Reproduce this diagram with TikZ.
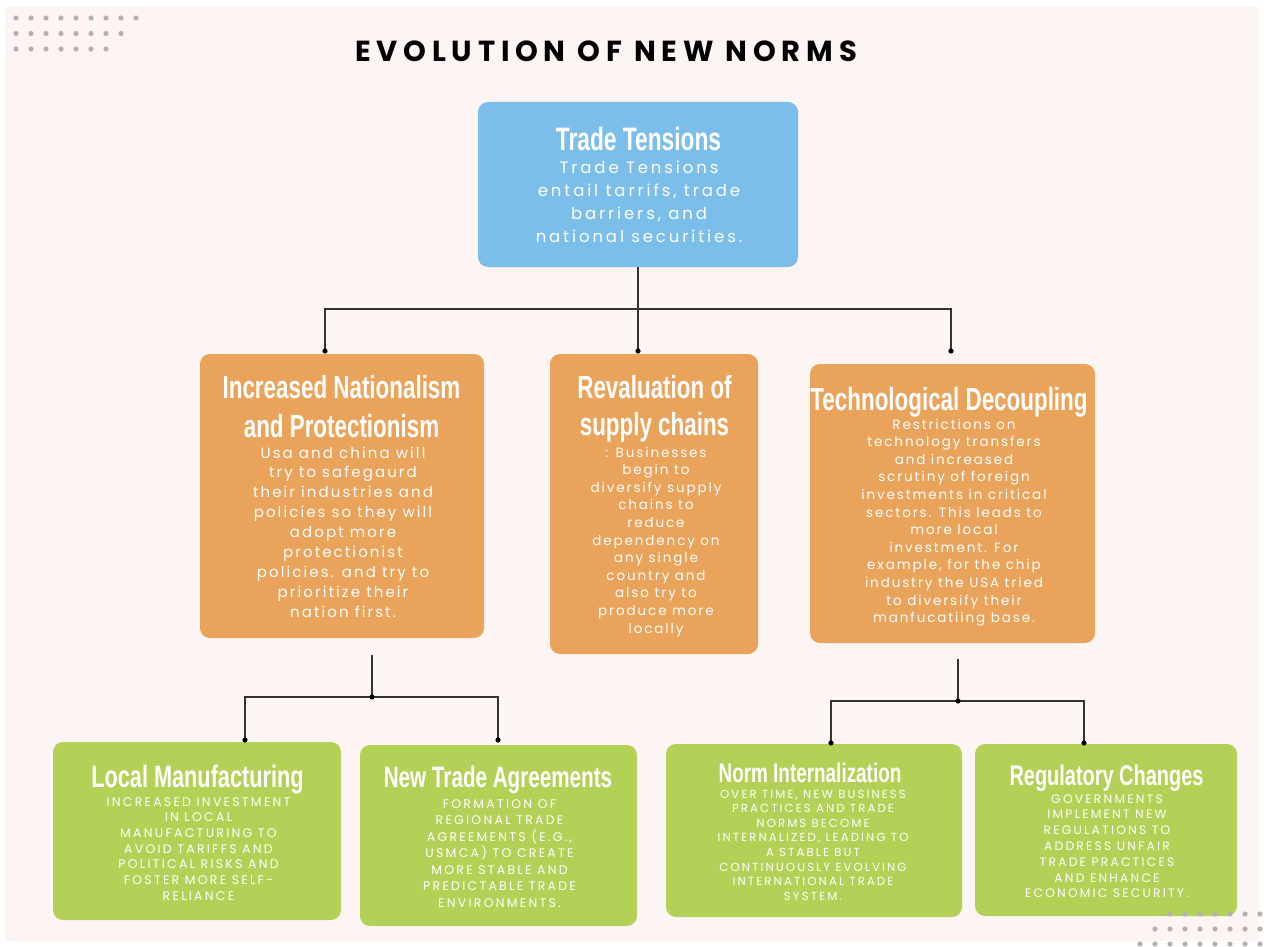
\documentclass[tikz,border=0pt]{standalone}
\usepackage{fontspec}
\setmainfont{Poppins}
\newfontfamily\headfont[FakeStretch=0.7]{Liberation Sans}
\newfontfamily\bodyfont[LetterSpace=14]{Poppins}
\newfontfamily\topfont[LetterSpace=17.5]{Poppins}
\newfontfamily\capsfont[LetterSpace=18]{Poppins}
\newfontfamily\titlefont[LetterSpace=20]{Poppins}
\definecolor{bgc}{HTML}{FDF5F3}
\definecolor{bluec}{HTML}{7CBEEA}
\definecolor{orac}{HTML}{E9A35A}
\definecolor{grec}{HTML}{B3D156}
\definecolor{dotc}{HTML}{B7AFB0}
\definecolor{linec}{HTML}{333333}
\newcommand\mlines[1]{\begin{tabular}[t]{@{}c@{}}#1\end{tabular}}
\begin{document}
\begin{tikzpicture}[x=1pt,y=-1pt,
  box/.style={rounded corners=10pt, inner sep=0pt, draw=none},
  blu/.style={box, fill=bluec},
  ora/.style={box, fill=orac},
  gre/.style={box, fill=grec},
  txt/.style={anchor=base, inner sep=0pt, text=white},
  link/.style={draw=linec, line width=1.4pt},
  jdot/.style={fill=black},
  deco/.style={fill=dotc}]
\useasboundingbox (0,0) rectangle (1264,947);
\fill[white] (0,0) rectangle (1264,947);
\fill[bgc] (5,7) rectangle (1259,941);

% title
\node[anchor=base, inner sep=0pt] (title) at (606,62) {\titlefont\bfseries\fontsize{29}{32}\selectfont EVOLUTION OF NEW NORMS};

% boxes
\node[blu, minimum width=320pt, minimum height=165pt] (top) at (638,184.5) {};
\node[ora, minimum width=284pt, minimum height=284pt] (o1) at (342,496) {};
\node[ora, minimum width=208pt, minimum height=300pt] (o2) at (654,504) {};
\node[ora, minimum width=285pt, minimum height=279pt] (o3) at (952.5,503.5) {};
\node[gre, minimum width=288pt, minimum height=178pt] (g1) at (197,831) {};
\node[gre, minimum width=277pt, minimum height=181pt] (g2) at (498.5,835.5) {};
\node[gre, minimum width=296pt, minimum height=173pt] (g3) at (814,830.5) {};
\node[gre, minimum width=262pt, minimum height=172pt] (g4) at (1106,830) {};

% headings
\node[txt] (toph) at (638.5,150) {\headfont\bfseries\fontsize{32.5}{39}\selectfont Trade Tensions};
\node[txt] (o1h) at (341.5,398) {\headfont\bfseries\fontsize{32}{39}\selectfont\mlines{Increased Nationalism\\and Protectionism}};
\node[txt] (o2h) at (654.5,398) {\headfont\bfseries\fontsize{32}{37}\selectfont\mlines{Revaluation of\\supply chains}};
\node[txt] (o3h) at (949,410) {\headfont\bfseries\fontsize{32}{37}\selectfont Technological Decoupling};
\node[txt] (g1h) at (197.5,787) {\headfont\bfseries\fontsize{31}{37}\selectfont Local Manufacturing};
\node[txt] (g2h) at (498,787) {\headfont\bfseries\fontsize{29.5}{37}\selectfont New Trade Agreements};
\node[txt] (g3h) at (810,782) {\headfont\bfseries\fontsize{27}{37}\selectfont Norm Internalization};
\node[txt] (g4h) at (1106.5,785) {\headfont\bfseries\fontsize{28.5}{37}\selectfont Regulatory Changes};

% body texts
\node[txt] (topb) at (639,173) {\topfont\fontsize{16.5}{23.3}\selectfont\mlines{Trade Tensions\\entail tarrifs, trade\\barriers, and\\national securities.}};
\node[txt] (o1b) at (343,458) {\bodyfont\fontsize{15}{19.9}\selectfont\mlines{Usa and china will\\try to safegaurd\\their industries and\\policies so they will\\adopt more\\protectionist\\policies. and try to\\prioritize their\\nation first.}};
\node[txt] (o2b) at (656,457) {\bodyfont\fontsize{13.5}{17.6}\selectfont\mlines{: Businesses\\begin to\\diversify supply\\chains to\\reduce\\dependency on\\any single\\country and\\also try to\\produce more\\locally}};
\node[txt] (o3b) at (954,429) {\bodyfont\fontsize{13.5}{17.6}\selectfont\mlines{Restrictions on\\technology transfers\\and increased\\scrutiny of foreign\\investments in critical\\sectors. This leads to\\more local\\investment. For\\example, for the chip\\industry the USA tried\\to diversify their\\manfucatiing base.}};
\node[txt] (g1b) at (198.5,806) {\capsfont\fontsize{12.5}{15.7}\selectfont\mlines{INCREASED INVESTMENT\\IN LOCAL\\MANUFACTURING TO\\AVOID TARIFFS AND\\POLITICAL RISKS AND\\FOSTER MORE SELF-\\RELIANCE}};
\node[txt] (g2b) at (499.5,808) {\capsfont\fontsize{12.5}{16.5}\selectfont\mlines{FORMATION OF\\REGIONAL TRADE\\AGREEMENTS (E.G.,\\USMCA) TO CREATE\\MORE STABLE AND\\PREDICTABLE TRADE\\ENVIRONMENTS.}};
\node[txt] (g3b) at (813,798) {\capsfont\fontsize{11.7}{14.6}\selectfont\mlines{OVER TIME, NEW BUSINESS\\PRACTICES AND TRADE\\NORMS BECOME\\INTERNALIZED, LEADING TO\\A STABLE BUT\\CONTINUOUSLY EVOLVING\\INTERNATIONAL TRADE\\SYSTEM.}};
\node[txt] (g4b) at (1107,803) {\capsfont\fontsize{12.3}{15.8}\selectfont\mlines{GOVERNMENTS\\IMPLEMENT NEW\\REGULATIONS TO\\ADDRESS UNFAIR\\TRADE PRACTICES\\AND ENHANCE\\ECONOMIC SECURITY.}};

% connectors level 1
\coordinate (j0) at (638,309);
\coordinate (c1) at (325,351);
\coordinate (c2) at (638,351);
\coordinate (c3) at (951,351);
\draw[link] (top.south) -- (j0);
\draw[link] (c1) -- (c1 |- j0) -- (c3 |- j0) -- (c3);
\draw[link] (j0) -- (c2);
\foreach \p in {c1,c2,c3} \fill[jdot] (\p) circle (2.6pt);

% connectors left subtree
\coordinate (s1) at (372,655);
\coordinate (j1) at (372,697);
\coordinate (d1) at (245,740);
\coordinate (d2) at (498,740);
\draw[link] (s1) -- (j1);
\draw[link] (d1) -- (d1 |- j1) -- (d2 |- j1) -- (d2);
\foreach \p in {j1,d1,d2} \fill[jdot] (\p) circle (2.6pt);

% connectors right subtree
\coordinate (s2) at (958,659);
\coordinate (j2) at (958,701);
\coordinate (d3) at (831,743);
\coordinate (d4) at (1084,743);
\draw[link] (s2) -- (j2);
\draw[link] (d3) -- (d3 |- j2) -- (d4 |- j2) -- (d4);
\foreach \p in {j2,d3,d4} \fill[jdot] (\p) circle (2.6pt);

% decorative dots
\foreach \i in {0,...,8} \fill[deco] (16+15*\i,18) circle (2.6pt);
\foreach \i in {0,...,7} \fill[deco] (16+15*\i,33.5) circle (2.6pt);
\foreach \i in {0,...,6} \fill[deco] (16+15*\i,49) circle (2.6pt);
\foreach \i in {0,...,6} \fill[deco] (1170+15*\i,914) circle (2.6pt);
\foreach \i in {0,...,7} \fill[deco] (1155+15*\i,929) circle (2.6pt);
\foreach \i in {0,...,8} \fill[deco] (1140+15*\i,944) circle (2.6pt);
\end{tikzpicture}
\end{document}
